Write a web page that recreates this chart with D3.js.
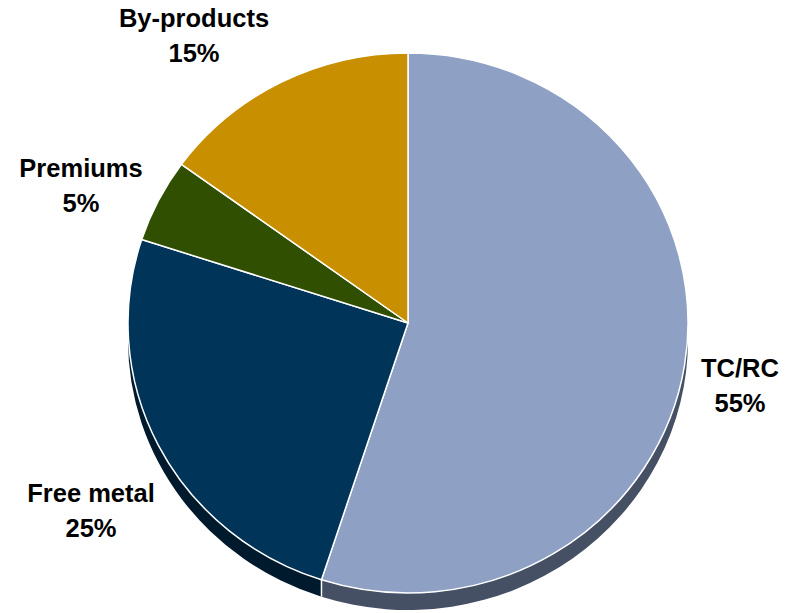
<!DOCTYPE html>
<html>
<head>
<meta charset="utf-8">
<script src="https://cdn.jsdelivr.net/npm/d3@7"></script>
<style>
  html, body { margin: 0; padding: 0; background: #ffffff; }
  svg { display: block; }
  text { font-family: "Liberation Sans", Arial, sans-serif; font-weight: bold; fill: #000; }
</style>
</head>
<body>
<svg id="chart" width="796" height="613"></svg>
<script>
// Revenue split
const categories = ["TC/RC", "Free metal", "Premiums", "By-products"];
const shares = [55, 25, 5, 15];
const percentLabels = ["55%", "25%", "5%", "15%"];

// Top-face and side-wall colours per slice
const topColors = ["#8EA0C4", "#003459", "#304F00", "#C89000"];
const sideColors = ["#465064", "#001A2D", "#1E3200", "#7E5B00"];

// Layout
const W = 796, H = 613;
const cx = 408, cy = 323;
const rx = 280, ry = 270;        // tilted pie: horizontal and vertical radius
const depth = 17;                // visible thickness in screen pixels
const k = ry / rx;               // vertical squash
const depthU = depth / k;        // thickness in unsquashed units

// Label anchors (text centre, first-line baseline)
const labelAnchors = [
  [740, 377], [91, 502], [81, 177], [194, 27]
];
const lineGap = 34.5;

const svg = d3.select("#chart");

const pie = d3.pie().value(d => d).sort(null);
const arcs = pie(shares);

const arc = d3.arc().innerRadius(0).outerRadius(rx);

const g = svg.append("g")
  .attr("transform", `translate(${cx},${cy}) scale(1,${k})`);

// Side wall: only the front half of the rim (angles π/2 .. 3π/2) is visible
const frontStart = Math.PI / 2, frontEnd = 3 * Math.PI / 2;
const pt = (a, r) => [r * Math.sin(a), -r * Math.cos(a)];

const sides = g.append("g").attr("class", "sides");
arcs.forEach((a, i) => {
  const s = Math.max(a.startAngle, frontStart);
  const e = Math.min(a.endAngle, frontEnd);
  if (e <= s) return;
  const p = d3.path();
  const [x0, y0] = pt(s, rx);
  const [x1, y1] = pt(e, rx);
  p.moveTo(x0, y0);
  p.arc(0, 0, rx, s - Math.PI / 2, e - Math.PI / 2, false);
  p.lineTo(x1, y1 + depthU);
  p.arc(0, depthU, rx, e - Math.PI / 2, s - Math.PI / 2, true);
  p.closePath();
  sides.append("path")
    .attr("d", p.toString())
    .attr("fill", sideColors[i]);
});

// White seams on the side wall where slice boundaries meet the front rim
arcs.forEach(a => {
  const b = a.endAngle;
  if (b > frontStart && b < frontEnd) {
    const [x, y] = pt(b, rx);
    sides.append("line")
      .attr("x1", x).attr("y1", y)
      .attr("x2", x).attr("y2", y + depthU)
      .attr("stroke", "#ffffff")
      .attr("stroke-width", 1.5)
      .attr("vector-effect", "non-scaling-stroke");
  }
});

// Top face
g.append("g").attr("class", "slices")
  .selectAll("path")
  .data(arcs)
  .join("path")
  .attr("d", arc)
  .attr("fill", (d, i) => topColors[i])
  .attr("stroke", "#ffffff")
  .attr("stroke-width", 1.5)
  .attr("stroke-linejoin", "round")
  .attr("vector-effect", "non-scaling-stroke");

// Labels: category name over percentage
const labels = svg.append("g").attr("class", "labels")
  .selectAll("text")
  .data(arcs)
  .join("text")
  .attr("text-anchor", "middle")
  .attr("font-size", 25.5)
  .attr("x", (d, i) => labelAnchors[i][0])
  .attr("y", (d, i) => labelAnchors[i][1]);

labels.append("tspan")
  .attr("x", (d, i) => labelAnchors[i][0])
  .text((d, i) => categories[i]);
labels.append("tspan")
  .attr("x", (d, i) => labelAnchors[i][0])
  .attr("dy", lineGap)
  .text((d, i) => percentLabels[i]);
</script>
</body>
</html>
